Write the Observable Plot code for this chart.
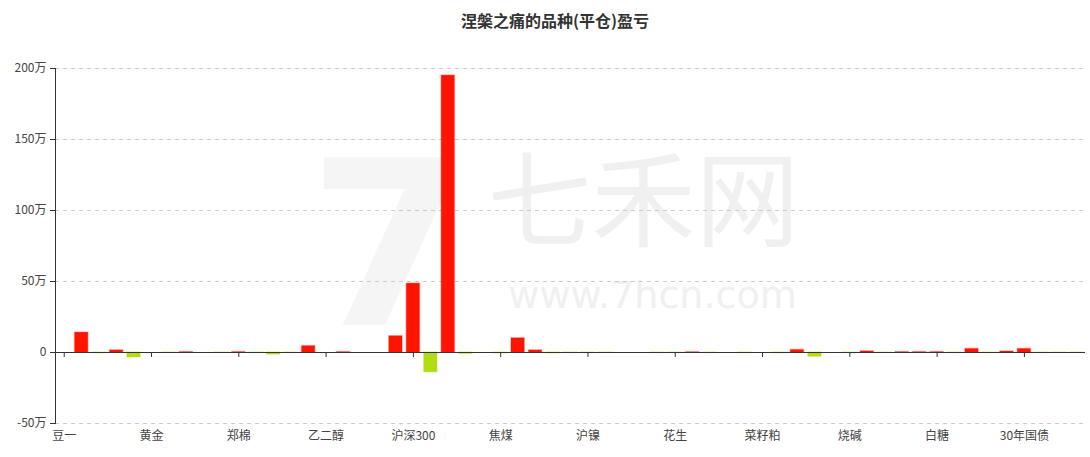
<!DOCTYPE html>
<html><head><meta charset="utf-8">
<script src="https://cdn.jsdelivr.net/npm/d3@7"></script>
<script src="https://cdn.jsdelivr.net/npm/@observablehq/plot@0.6"></script>
<style>
body{margin:0;background:#fff;font-family:"Noto Sans CJK SC","Noto Sans",sans-serif;}
#title{height:40px;line-height:40px;text-align:center;font-size:16px;font-weight:bold;color:#333;padding-left:20px;box-sizing:border-box;}
</style></head><body>
<div id="title">涅槃之痛的品种(平仓)盈亏</div>
<div id="chart"></div>
<script>
// categories (only every 5th one is labelled on the axis)
const categories = [
  "豆一","沪铜","螺纹钢","铁矿石","棕榈油",
  "黄金","白银","沪铝","沪锌","PTA",
  "郑棉","甲醇","玻璃","纯碱","塑料",
  "乙二醇","PVC","聚丙烯","苯乙烯","中证500",
  "沪深300","上证50","中证1000","焦炭","动力煤",
  "焦煤","热卷","硅铁","锰硅","不锈钢",
  "沪镍","沪锡","沪铅","苹果","红枣",
  "花生","鸡蛋","生猪","玉米","淀粉",
  "菜籽粕","菜油","豆油","豆粕","豆二",
  "烧碱","尿素","纸浆","橡胶","原油",
  "白糖","燃油","沥青","10年国债","5年国债",
  "30年国债","2年国债","短纤","液化气"
];
// profit / loss in 万
const values = [
  0, 14, -0.5, 1.5, -3.5,
  0, -0.2, 0.3, 0, -0.2,
  0.3, -0.3, -1.5, -0.3, 4.5,
  0, 0.3, 0, 0, 11.5,
  48.5, -14, 195, -1, 0,
  -0.7, 10, 1.5, -0.7, -0.3,
  -0.3, -0.2, 0, 0, -0.3,
  -0.3, 0.2, -0.3, 0, -0.3,
  0, -0.5, 1.8, -3, 0,
  -0.3, 0.8, -0.2, 0.3, 0.3,
  0.3, -0.3, 2.5, -0.3, 0.7,
  2.5, -0.3, -0.2, -0.2
];
const labeledCategories = categories.filter((d, i) => i % 5 === 0);
const yTicks = [-50, 0, 50, 100, 150, 200];
const signs = ["盈", "亏"];
const signColors = ["#ff1400", "#b4dc14"];

const data = categories.map((c, i) => ({category: c, value: values[i], sign: values[i] >= 0 ? "盈" : "亏"}));

const chart = Plot.plot({
  width: 1090, height: 417,
  marginTop: 28, marginBottom: 34, marginLeft: 55, marginRight: 5,
  style: {fontFamily: '"Noto Sans CJK SC","Noto Sans",sans-serif', fontSize: "12px", color: "#444", background: "transparent"},
  x: {domain: categories, paddingInner: 0.24, paddingOuter: 0.12, round: false},
  y: {domain: [-50, 200]},
  color: {domain: signs, range: signColors},
  marks: [
    Plot.text(["7"], {frameAnchor: "middle", dx: -182, dy: 5, fontSize: 230, fontWeight: "bold", fill: "#f5f5f5", fontFamily: "DejaVu Sans"}),
    Plot.text(["七禾网"], {frameAnchor: "middle", dx: 73, dy: -40, fontSize: 104, fill: "#f0f0f0"}),
    Plot.text(["www.7hcn.com"], {frameAnchor: "middle", dx: 82, dy: 50, fontSize: 38, fill: "#f0f0f0", fontFamily: "DejaVu Sans"}),
    Plot.gridY(yTicks.filter(d => d !== 0), {stroke: "#ccc", strokeOpacity: 1, strokeDasharray: "4,4"}),
    Plot.barY(data, {x: "category", y: "value", fill: "sign", stroke: "sign", strokeOpacity: 0.3, strokeWidth: 1.5}),
    Plot.ruleY([0], {stroke: "#333"}),
    Plot.ruleX(labeledCategories, {x: d => d, y1: () => 0, y2: () => 0, insetBottom: -5, stroke: "#333"}),
    Plot.frame({anchor: "left", stroke: "#333"}),
    Plot.axisY({ticks: yTicks, tickFormat: d => d === 0 ? "0" : d + "万", tickSize: 5, label: null, stroke: "#333"}),
    Plot.axisX({ticks: labeledCategories, tickSize: 0, tickPadding: 8, label: null})
  ]
});
document.getElementById("chart").appendChild(chart);
</script>
</body></html>
